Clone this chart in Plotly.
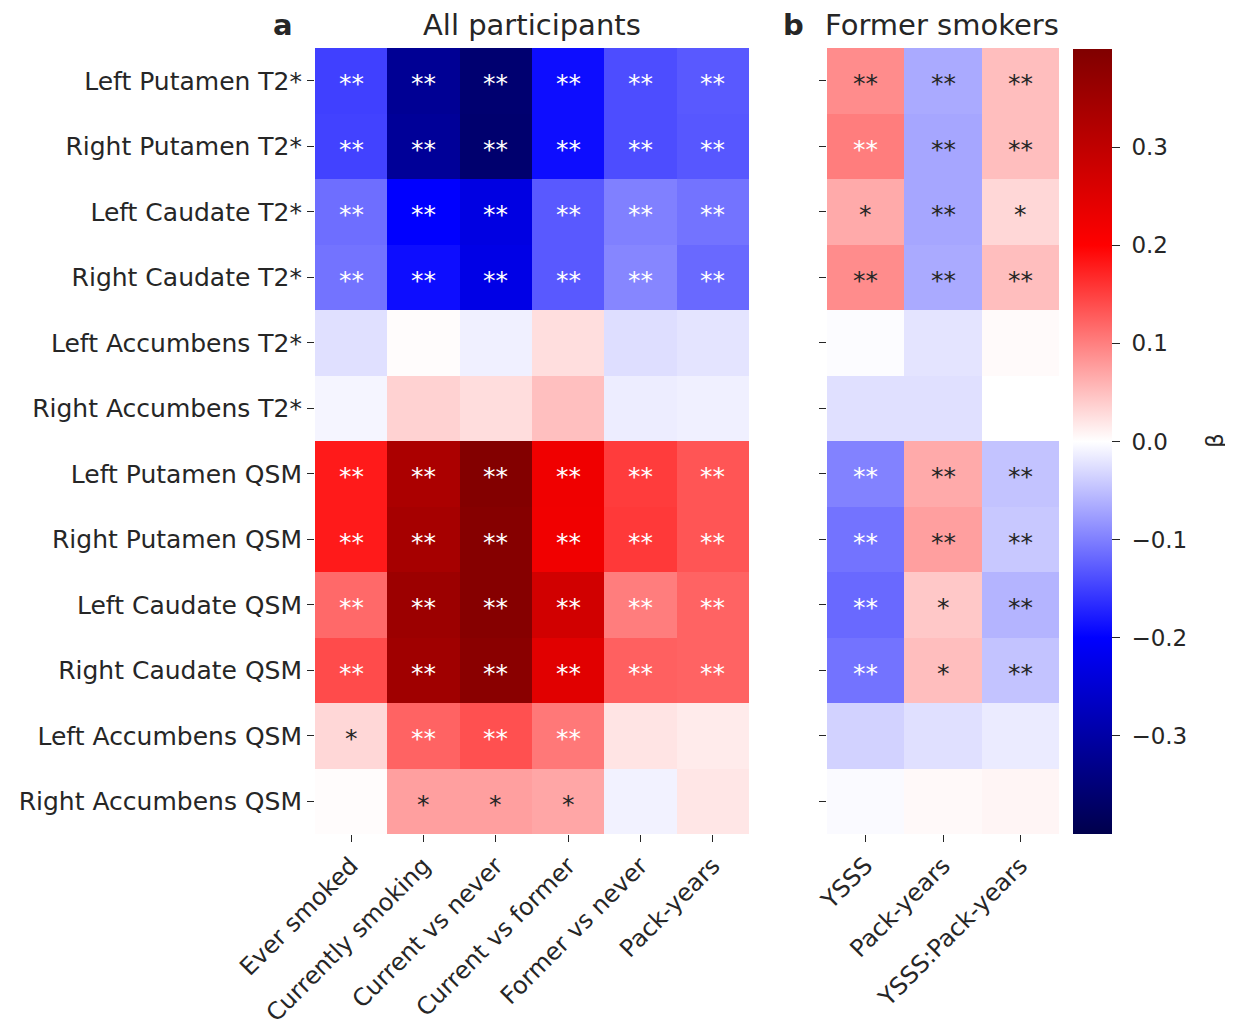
import plotly.graph_objects as go

rows = ["Left Putamen T2*", "Right Putamen T2*", "Left Caudate T2*", "Right Caudate T2*",
        "Left Accumbens T2*", "Right Accumbens T2*", "Left Putamen QSM", "Right Putamen QSM",
        "Left Caudate QSM", "Right Caudate QSM", "Left Accumbens QSM", "Right Accumbens QSM"]
cols_a = ["Ever smoked", "Currently smoking", "Current vs never", "Current vs former",
          "Former vs never", "Pack-years"]
cols_b = ["YSSS", "Pack-years", "YSSS:Pack-years"]

beta_a = [
    [-0.150, -0.320, -0.360, -0.190, -0.140, -0.130],
    [-0.148, -0.315, -0.362, -0.190, -0.140, -0.132],
    [-0.114, -0.200, -0.232, -0.130, -0.100, -0.110],
    [-0.110, -0.190, -0.228, -0.130, -0.095, -0.118],
    [-0.024, 0.002, -0.012, 0.026, -0.026, -0.021],
    [-0.008, 0.035, 0.027, 0.050, -0.014, -0.012],
    [0.180, 0.333, 0.395, 0.224, 0.153, 0.133],
    [0.180, 0.340, 0.390, 0.222, 0.155, 0.133],
    [0.118, 0.356, 0.390, 0.272, 0.102, 0.122],
    [0.141, 0.350, 0.385, 0.247, 0.125, 0.122],
    [0.031, 0.122, 0.137, 0.106, 0.021, 0.016],
    [0.002, 0.075, 0.075, 0.070, -0.010, 0.020],
]
stars_a = [
    ["**"] * 6, ["**"] * 6, ["**"] * 6, ["**"] * 6,
    [""] * 6, [""] * 6,
    ["**"] * 6, ["**"] * 6, ["**"] * 6, ["**"] * 6,
    ["*", "**", "**", "**", "", ""],
    ["", "*", "*", "*", "", ""],
]
beta_b = [
    [0.090, -0.067, 0.051],
    [0.102, -0.070, 0.051],
    [0.067, -0.070, 0.031],
    [0.090, -0.067, 0.051],
    [-0.002, -0.021, 0.004],
    [-0.024, -0.024, 0.000],
    [-0.098, 0.067, -0.047],
    [-0.110, 0.075, -0.043],
    [-0.118, 0.043, -0.059],
    [-0.110, 0.051, -0.047],
    [-0.035, -0.024, -0.016],
    [-0.004, 0.005, 0.008],
]
stars_b = [
    ["**", "**", "**"], ["**", "**", "**"], ["*", "**", "*"], ["**", "**", "**"],
    ["", "", ""], ["", "", ""],
    ["**", "**", "**"], ["**", "**", "**"], ["**", "*", "**"], ["**", "*", "**"],
    ["", "", ""], ["", "", ""],
]
cbar_ticks = [-0.3, -0.2, -0.1, 0.0, 0.1, 0.2, 0.3]

VMIN, VMAX = -0.4, 0.4
stops = [(0.0, (0, 0, 0.3)), (0.25, (0, 0, 1)), (0.5, (1, 1, 1)), (0.75, (1, 0, 0)), (1.0, (0.5, 0, 0))]
colorscale = [[p, "rgb(%d,%d,%d)" % tuple(round(c * 255) for c in rgb)] for p, rgb in stops]


def cmap(v):
    t = min(max((v - VMIN) / (VMAX - VMIN), 0), 1)
    for (p0, c0), (p1, c1) in zip(stops[:-1], stops[1:]):
        if t <= p1:
            f = (t - p0) / (p1 - p0)
            return [a + (b - a) * f for a, b in zip(c0, c1)]
    return list(stops[-1][1])


def text_color(v):
    rgb = cmap(v)
    lin = [c / 12.92 if c <= 0.03928 else ((c + 0.055) / 1.055) ** 2.4 for c in rgb]
    lum = 0.2126 * lin[0] + 0.7152 * lin[1] + 0.0722 * lin[2]
    return "#262626" if lum > 0.408 else "white"


FONT = "DejaVu Sans"
OFF = 8  # default page body margin
W, H = 1233 - OFF, 1029 - OFF


def px(x):
    return (x - OFF) / W


def py(y):
    return 1 - (y - OFF) / H


fig = go.Figure()

fig.add_trace(go.Heatmap(z=beta_a, x=cols_a, y=rows, colorscale=colorscale, zmin=VMIN, zmax=VMAX,
                         xaxis="x", yaxis="y", showscale=False, hoverinfo="skip"))
fig.add_trace(go.Heatmap(z=beta_b, x=cols_b, y=rows, colorscale=colorscale, zmin=VMIN, zmax=VMAX,
                         xaxis="x2", yaxis="y2", hoverinfo="skip",
                         colorbar=dict(x=px(1073), xanchor="left", thickness=39,
                                       len=(834 - 49) / H, lenmode="fraction",
                                       y=py(441.5), yanchor="middle", outlinewidth=0,
                                       xpad=0, ypad=0,
                                       ticks="outside", ticklen=8, tickwidth=1.2,
                                       tickcolor="#262626",
                                       tickvals=cbar_ticks,
                                       ticktext=["\u00a0" + ("%.1f" % t).replace("-", "\u2212")
                                                 for t in cbar_ticks],
                                       tickfont=dict(family=FONT, size=23, color="#262626"))))

for z, st, cols, xa, ya in [(beta_a, stars_a, cols_a, "x", "y"), (beta_b, stars_b, cols_b, "x2", "y2")]:
    for i, r in enumerate(rows):
        for j, c in enumerate(cols):
            if st[i][j]:
                fig.add_annotation(x=c, y=r, xref=xa, yref=ya, text=st[i][j], showarrow=False,
                                   yshift=-3, xanchor="center", yanchor="middle",
                                   font=dict(family=FONT, size=25, color=text_color(z[i][j])))

axis_common = dict(ticks="outside", ticklen=7, tickwidth=1.2, tickcolor="#262626",
                   showgrid=False, zeroline=False, showline=False, automargin=False,
                   tickfont=dict(family=FONT, size=25, color="#262626"))
xfont = dict(family=FONT, size=24, color="#262626")
fig.update_layout(
    width=W, height=H, margin=dict(l=0, r=0, t=0, b=0, autoexpand=False),
    paper_bgcolor="white", plot_bgcolor="white", showlegend=False,
    xaxis=dict(domain=[px(315), px(749)], anchor="y", tickangle=-45,
               range=[-0.5, len(cols_a) - 0.5], **{**axis_common, "tickfont": xfont}),
    yaxis=dict(domain=[py(834), py(48)], anchor="x", range=[len(rows) - 0.5, -0.5], **axis_common),
    xaxis2=dict(domain=[px(827), px(1059)], anchor="y2", tickangle=-45,
                range=[-0.5, len(cols_b) - 0.5], **{**axis_common, "tickfont": xfont}),
    yaxis2=dict(domain=[py(834), py(48)], anchor="x2", range=[len(rows) - 0.5, -0.5],
                showticklabels=False,
                **{k: v for k, v in axis_common.items() if k != "tickfont"}),
)

title_font = dict(family=FONT, size=29, color="#262626")
for xx, txt in [(283, "<b>a</b>"), (532, "All participants"), (793, "<b>b</b>"), (942, "Former smokers")]:
    fig.add_annotation(x=px(xx), y=py(25), xref="paper", yref="paper", text=txt,
                       showarrow=False, font=title_font, xanchor="center", yanchor="middle")
fig.add_annotation(x=px(1215), y=py(441), xref="paper", yref="paper", text="β", textangle=-90,
                   showarrow=False, font=dict(family=FONT, size=23, color="#262626"),
                   xanchor="center", yanchor="middle")

fig.write_html("out.html")
